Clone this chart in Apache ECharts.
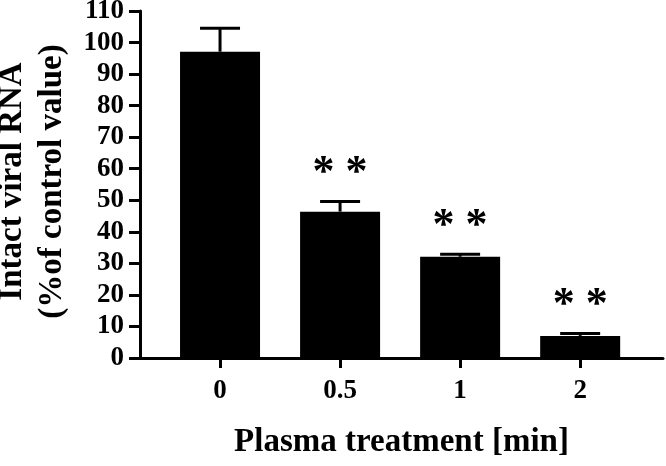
<!DOCTYPE html>
<html>
<head>
<meta charset="utf-8">
<script src="https://cdn.jsdelivr.net/npm/echarts@6/dist/echarts.min.js"></script>
<style>
html,body{margin:0;padding:0;background:#fff;}
#chart{width:666px;height:466px;}
</style>
</head>
<body>
<div id="chart"></div>
<script>
const categories = ['0', '0.5', '1', '2'];
const means = [97.1, 46.4, 32.1, 7.0];
const errors = [7.4, 3.2, 0.8, 0.8];
const stars = ['', '* *', '* *', '* *'];
const yTicks = [0, 10, 20, 30, 40, 50, 60, 70, 80, 90, 100, 110];

const FONT = '"Liberation Serif", "Times New Roman", serif';
const positions = categories.map((c, i) => i);

const chart = echarts.init(document.getElementById('chart'));
chart.setOption({
  animation: false,
  backgroundColor: '#fff',
  grid: { left: 140, right: 3, top: 11, bottom: 108, containLabel: false, outerBoundsMode: 'none' },
  xAxis: {
    type: 'value',
    min: -0.6667,
    max: 3.69,
    name: 'Plasma treatment [min]',
    nameLocation: 'middle',
    nameGap: 68,
    nameTextStyle: { fontFamily: FONT, fontWeight: 'bold', fontSize: 33, color: '#000' },
    splitLine: { show: false },
    axisLine: { show: true, onZero: false, lineStyle: { color: '#000', width: 3 } },
    axisTick: { show: true, customValues: positions, length: 10, lineStyle: { color: '#000', width: 3 } },
    axisLabel: {
      customValues: positions,
      margin: 20,
      formatter: v => categories[Math.round(v)],
      fontFamily: FONT, fontWeight: 'bold', fontSize: 27, color: '#000'
    }
  },
  yAxis: {
    type: 'value',
    min: yTicks[0],
    max: yTicks[yTicks.length - 1],
    interval: 10,
    name: 'Intact viral RNA\n(%of control value)',
    nameLocation: 'middle',
    nameGap: 62,
    nameTextStyle: { fontFamily: FONT, fontWeight: 'bold', fontSize: 33, color: '#000', lineHeight: 40, padding: [0, 0, 0, 6] },
    splitLine: { show: false },
    axisLine: { show: true, onZero: false, lineStyle: { color: '#000', width: 3 } },
    axisTick: { show: true, length: 11, lineStyle: { color: '#000', width: 3 } },
    axisLabel: { margin: 16, padding: [3, 0, 0, 0], fontFamily: FONT, fontWeight: 'bold', fontSize: 27, color: '#000' }
  },
  series: [
    {
      type: 'bar',
      data: positions.map(i => [i, means[i]]),
      barWidth: 80,
      itemStyle: { color: '#000' }
    },
    {
      type: 'custom',
      data: positions.map(i => [i, means[i], errors[i]]),
      z: 5,
      renderItem: function (params, api) {
        const i = api.value(0);
        const m = api.value(1);
        const e = api.value(2);
        const base = api.coord([i, m]);
        const top = api.coord([i, m + e]);
        const children = [
          { type: 'line', shape: { x1: base[0], y1: base[1], x2: top[0], y2: top[1] }, style: { stroke: '#000', lineWidth: 3 } },
          { type: 'line', shape: { x1: top[0] - 20, y1: top[1], x2: top[0] + 20, y2: top[1] }, style: { stroke: '#000', lineWidth: 3 } }
        ];
        const s = stars[params.dataIndex];
        if (s) {
          children.push({
            type: 'text',
            style: {
              text: s, x: top[0], y: top[1] - 6,
              align: 'center', verticalAlign: 'bottom',
              font: 'bold 44px ' + FONT, fill: '#000'
            }
          });
        }
        return { type: 'group', children: children };
      }
    }
  ]
});
</script>
</body>
</html>
